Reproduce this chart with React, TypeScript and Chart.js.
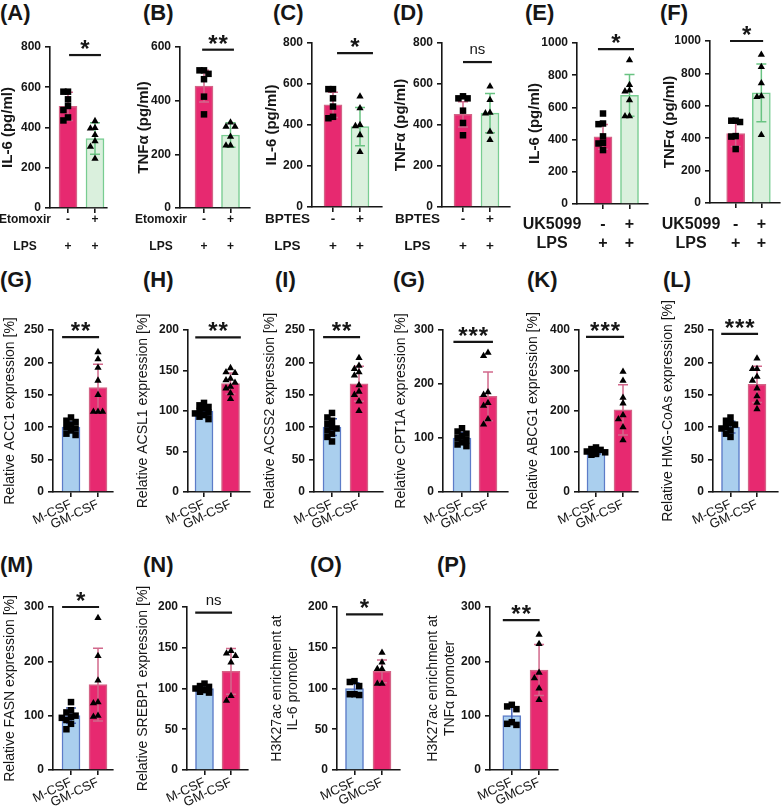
import React, { useEffect, useRef } from "react";
import { Chart, registerables } from "chart.js";
Chart.register(...registerables);

const FONT = 'Arial, "Liberation Sans", Helvetica, sans-serif';

// ---------------- DATA ----------------
// Row 1: LPS-stimulated cytokines, control (-) vs inhibitor (+)
const signLabels = [["-", "+"], ["+", "+"]];

const A_rows = ["Etomoxir", "LPS"];
const A_title = "IL-6 (pg/ml)";
const A_mean = [505, 345];
const A_sd = [70, 78];
const A_ctrl = [578, 578, 540, 507, 487, 450, 435];
const A_trt = [432, 398, 395, 363, 332, 305, 245];
const A_sig = "*";

const B_rows = ["Etomoxir", "LPS"];
const B_title = "TNFα (pg/ml)";
const B_mean = [454, 272];
const B_sd = [59, 46];
const B_ctrl = [513, 513, 500, 480, 415, 349];
const B_trt = [319, 303, 303, 266, 233, 233];
const B_sig = "**";

const C_rows = ["BPTES", "LPS"];
const C_title = "IL-6 (pg/ml)";
const C_mean = [498, 392];
const C_sd = [62, 93];
const C_ctrl = [575, 575, 530, 490, 440, 433];
const C_trt = [539, 482, 400, 395, 351, 269];
const C_sig = "*";

const D_rows = ["BPTES", "LPS"];
const D_title = "TNFα (pg/ml)";
const D_mean = [452, 458];
const D_sd = [62, 96];
const D_ctrl = [530, 540, 530, 470, 410, 350];
const D_trt = [588, 522, 460, 457, 367, 327];
const D_sig = "ns";

const E_rows = ["UK5099", "LPS"];
const E_title = "IL-6 (pg/ml)";
const E_mean = [417, 675];
const E_sd = [77, 130];
const E_ctrl = [562, 496, 500, 420, 376, 380, 335];
const E_trt = [893, 740, 705, 700, 645, 545, 545];
const E_sig = "*";

const F_rows = ["UK5099", "LPS"];
const F_title = "TNFα (pg/ml)";
const F_mean = [428, 680];
const F_sd = [80, 178];
const F_ctrl = [508, 508, 500, 410, 413, 333];
const F_trt = [915, 840, 740, 660, 655, 420];
const F_sig = "*";

// Rows 2-3: M-CSF vs GM-CSF macrophages
const csfLabels = ["M-CSF", "GM-CSF"];
const csfLabelsShort = ["MCSF", "GMCSF"];

const G_title = "Relative ACC1 expression [%]";
const G_mean = [100, 161];
const G_sd = [8, 36];
const G_m = [115, 110, 108, 104, 100, 98, 95, 90, 88];
const G_gm = [216, 205, 192, 172, 150, 124, 124, 124];
const G_sig = "**";

const H_title = "Relative ACSL1 expression [%]";
const H_mean = [100, 134];
const H_sd = [6, 13];
const H_m = [110, 107, 105, 103, 100, 98, 97, 95, 93, 90];
const H_gm = [153, 148, 147, 140, 138, 135, 130, 128, 122, 115];
const H_sig = "**";

const I_title = "Relative ACSS2 expression [%]";
const I_mean = [100, 167];
const I_sd = [13, 27];
const I_m = [122, 115, 110, 105, 100, 98, 95, 90, 85, 78];
const I_gm = [207, 195, 190, 185, 180, 165, 155, 150, 140, 125];
const I_sig = "**";

const J_title = "Relative CPT1A expression [%]";
const J_mean = [100, 177];
const J_sd = [10, 45];
const J_m = [118, 112, 108, 104, 100, 96, 92, 88, 85];
const J_gm = [258, 252, 185, 180, 165, 160, 135, 125];
const J_sig = "***";

const K_title = "Relative ABCG1 expression [%]";
const K_mean = [100, 203];
const K_sd = [6, 62];
const K_m = [110, 106, 104, 100, 98, 96, 94, 92];
const K_gm = [297, 275, 233, 219, 190, 180, 160, 128];
const K_sig = "***";

const L_title = "Relative HMG-CoAs expression [%]";
const L_mean = [100, 166];
const L_sd = [9, 28];
const L_m = [115, 110, 106, 104, 100, 98, 95, 90, 85];
const L_gm = [206, 190, 190, 178, 172, 160, 148, 138, 128];
const L_sig = "***";

const M_title = "Relative FASN expression [%]";
const M_mean = [100, 157];
const M_sd = [14, 67];
const M_m = [125, 110, 106, 100, 98, 96, 92, 85, 75];
const M_gm = [280, 210, 165, 125, 123, 100, 98];
const M_sig = "*";

const N_title = "Relative SREBP1 expression [%]";
const N_mean = [100, 121];
const N_sd = [4, 28];
const N_m = [106, 103, 102, 100, 98, 96, 95];
const N_gm = [146, 143, 140, 132, 91, 85];
const N_sig = "ns";

const O_title = ["H3K27ac enrichment at", "IL-6 promoter"];
const O_mean = [100, 121];
const O_sd = [7, 14];
const O_m = [108, 109, 103, 93, 92, 93];
const O_gm = [144, 132, 124, 124, 106, 106];
const O_sig = "*";

const P_title = ["H3K27ac enrichment at", "TNFα promoter"];
const P_mean = [100, 184];
const P_sd = [16, 47];
const P_m = [120, 117, 112, 88, 85, 83];
const P_gm = [249, 232, 179, 169, 150, 129];
const P_sig = "**";

// ---------------- STYLE ----------------
const RED = { fill: "rgb(231,41,112)", border: "rgb(212,100,135)", err: "rgb(210,105,140)" };
const GREEN = { fill: "rgb(218,240,221)", border: "rgb(120,205,145)", err: "rgb(105,195,130)" };
const BLUE = { fill: "rgb(170,207,238)", border: "rgb(92,124,200)", err: "rgb(70,100,185)" };
const INK = "#161616";

type Spec = {
  label: string; lx: number; ly: number;
  cx: number; cy: number; cw: number; ch: number;
  axisX: number; topY: number; zeroY: number; axisEnd: number; c0: number; c1: number;
  yMax: number; yStep: number;
  title: string | string[]; titleX: number; titleSize: number; titleBold: boolean; titleLH: number;
  xLabels: (string | string[])[]; xSize: number; xLH: number; xPad: number; rot: number; xBold: boolean;
  rows?: string[]; rowOffset?: number;
  mean: number[]; sd: number[]; ctrl: number[]; trt: number[];
  cols: typeof RED[]; sig: string; brY: number; brX: [number, number];
};

const row1 = (o: any): Spec => ({
  cy: 25, ch: 230, titleSize: 15, titleBold: true, titleLH: 18,
  xLabels: signLabels, rot: 0, xBold: true, cols: [RED, GREEN], ly: 13, ...o,
});
const row2 = (o: any): Spec => ({
  cy: 295, ch: 250, topY: 330, zeroY: 492, titleSize: 14, titleBold: false, titleLH: 16,
  xLabels: csfLabels, xSize: 13, xLH: 15, xPad: 0, rot: 25, xBold: false, cols: [BLUE, RED], ly: 280, ...o,
});
const row3 = (o: any): Spec => ({
  cy: 585, ch: 222, topY: 607, zeroY: 770, titleSize: 14, titleBold: false, titleLH: 16,
  xLabels: csfLabels, xSize: 13, xLH: 15, xPad: 0, rot: 25, xBold: false, cols: [BLUE, RED], ly: 565, ...o,
});

const SPECS: Spec[] = [
  row1({ label: "(A)", lx: 0, cx: 0, cw: 128, axisX: 50, topY: 47, zeroY: 208, axisEnd: 107, c0: 68, c1: 95,
    yMax: 800, yStep: 200, title: A_title, titleX: 8, xSize: 12, xLH: 27, xPad: -7, rows: A_rows, rowOffset: 25,
    mean: A_mean, sd: A_sd, ctrl: A_ctrl, trt: A_trt, sig: A_sig, brY: 760, brX: [0.04, 1.22] }),
  row1({ label: "(B)", lx: 143, cx: 130, cw: 135, axisX: 180, topY: 47, zeroY: 208, axisEnd: 250, c0: 204, c1: 230.5,
    yMax: 600, yStep: 200, title: B_title, titleX: 144, xSize: 12, xLH: 27, xPad: -7, rows: B_rows, rowOffset: 19,
    mean: B_mean, sd: B_sd, ctrl: B_ctrl, trt: B_trt, sig: B_sig, brY: 590, brX: [-0.07, 1.13] }),
  row1({ label: "(C)", lx: 273, cx: 265, cw: 125, axisX: 312, topY: 43, zeroY: 207, axisEnd: 382, c0: 333, c1: 360,
    yMax: 800, yStep: 200, title: C_title, titleX: 272, xSize: 13.5, xLH: 27, xPad: -6, rows: C_rows, rowOffset: 24.5,
    mean: C_mean, sd: C_sd, ctrl: C_ctrl, trt: C_trt, sig: C_sig, brY: 751, brX: [0.15, 1.48] }),
  row1({ label: "(D)", lx: 393, cx: 392, cw: 125, axisX: 442, topY: 43, zeroY: 207, axisEnd: 510, c0: 463, c1: 490,
    yMax: 800, yStep: 200, title: D_title, titleX: 401, xSize: 13.5, xLH: 27, xPad: -6, rows: D_rows, rowOffset: 24.5,
    mean: D_mean, sd: D_sd, ctrl: D_ctrl, trt: D_trt, sig: D_sig, brY: 707, brX: [0, 1.07] }),
  row1({ label: "(E)", lx: 525, cx: 520, cw: 135, axisX: 577, topY: 43, zeroY: 204, axisEnd: 648, c0: 603, c1: 629.5,
    yMax: 1000, yStep: 200, title: E_title, titleX: 535, xSize: 16, xLH: 19, xPad: 6.5, rows: E_rows, rowOffset: 25,
    mean: E_mean, sd: E_sd, ctrl: E_ctrl, trt: E_trt, sig: E_sig, brY: 962, brX: [-0.19, 1.17] }),
  row1({ label: "(F)", lx: 660, cx: 655, cw: 129, axisX: 710, topY: 41, zeroY: 203, axisEnd: 783, c0: 737, c1: 764,
    yMax: 1000, yStep: 200, title: F_title, titleX: 670, xSize: 16, xLH: 19, xPad: 7.5, rows: F_rows, rowOffset: 19,
    mean: F_mean, sd: F_sd, ctrl: F_ctrl, trt: F_trt, sig: F_sig, brY: 1000, brX: [-0.22, 1.07] }),

  row2({ label: "(G)", lx: 0, cx: 0, cw: 128, axisX: 53, axisEnd: 113, c0: 71, c1: 98, yMax: 250, yStep: 50,
    title: G_title, titleX: 10, mean: G_mean, sd: G_sd, ctrl: G_m, trt: G_gm, sig: G_sig, brY: 239, brX: [-0.33, 1.04] }),
  row2({ label: "(H)", lx: 143, cx: 128, cw: 134, axisX: 188, axisEnd: 250, c0: 204, c1: 230.5, yMax: 200, yStep: 50,
    title: H_title, titleX: 143, mean: H_mean, sd: H_sd, ctrl: H_m, trt: H_gm, sig: H_sig, brY: 191, brX: [-0.33, 1.39] }),
  row2({ label: "(I)", lx: 275, cx: 262, cw: 130, axisX: 314, axisEnd: 383, c0: 332, c1: 359, yMax: 250, yStep: 50,
    title: I_title, titleX: 270, mean: I_mean, sd: I_sd, ctrl: I_m, trt: I_gm, sig: I_sig, brY: 239, brX: [-0.33, 1.04] }),
  row2({ label: "(G)", lx: 393, cx: 392, cw: 126, axisX: 443, axisEnd: 508, c0: 462, c1: 488, yMax: 300, yStep: 100,
    title: J_title, titleX: 401, mean: J_mean, sd: J_sd, ctrl: J_m, trt: J_gm, sig: J_sig, brY: 278, brX: [-0.33, 1.19] }),
  row2({ label: "(K)", lx: 527, cx: 518, cw: 137, axisX: 579, axisEnd: 638, c0: 596, c1: 623, yMax: 400, yStep: 100,
    title: K_title, titleX: 533, mean: K_mean, sd: K_sd, ctrl: K_m, trt: K_gm, sig: K_sig, brY: 383, brX: [-0.37, 1.04] }),
  row2({ label: "(L)", lx: 663, cx: 655, cw: 129, axisX: 713, axisEnd: 778, c0: 730.5, c1: 757, yMax: 250, yStep: 50,
    title: L_title, titleX: 668, mean: L_mean, sd: L_sd, ctrl: L_m, trt: L_gm, sig: L_sig, brY: 244, brX: [-0.35, 1.04] }),

  row3({ label: "(M)", lx: 0, cx: 0, cw: 128, axisX: 53, axisEnd: 113, c0: 71, c1: 98, yMax: 300, yStep: 100,
    title: M_title, titleX: 10, mean: M_mean, sd: M_sd, ctrl: M_m, trt: M_gm, sig: M_sig, brY: 300, brX: [-0.33, 1.04] }),
  row3({ label: "(N)", lx: 143, cx: 128, cw: 134, axisX: 187, axisEnd: 248, c0: 204.5, c1: 231, yMax: 200, yStep: 50,
    title: N_title, titleX: 143, mean: N_mean, sd: N_sd, ctrl: N_m, trt: N_gm, sig: N_sig, brY: 193, brX: [-0.35, 1.04] }),
  row3({ label: "(O)", lx: 310, cx: 262, cw: 150, axisX: 337, axisEnd: 400, c0: 354.5, c1: 382, yMax: 200, yStep: 50,
    title: O_title, titleX: 277, titleLH: 16, xLabels: csfLabelsShort,
    mean: O_mean, sd: O_sd, ctrl: O_m, trt: O_gm, sig: O_sig, brY: 191, brX: [-0.31, 1.04] }),
  row3({ label: "(P)", lx: 437, cx: 412, cw: 150, axisX: 490, axisEnd: 558, c0: 512, c1: 539.5, yMax: 300, yStep: 100,
    title: P_title, titleX: 433, titleLH: 17, xLabels: csfLabelsShort,
    mean: P_mean, sd: P_sd, ctrl: P_m, trt: P_gm, sig: P_sig, brY: 276, brX: [-0.33, 1.02] }),
];

// compact beeswarm: nudge points sideways (within the bar) when they would overlap
function swarm(vals: number[], valPerPx: number): number[] {
  const step = 0.17;
  const thresh = 5.5 * valPerPx;
  const order = vals.map((_, i) => i).sort((a, b) => vals[b] - vals[a]);
  const placed: { x: number; y: number }[] = [];
  const out = new Array(vals.length).fill(0);
  const cands = [0, -1, 1, -2, 2];
  for (const i of order) {
    let best = 0, bestHits = Infinity;
    for (const c of cands) {
      const dx = c * step;
      const hits = placed.filter((p) => Math.abs(p.x - dx) < step * 0.9 && Math.abs(p.y - vals[i]) < thresh).length;
      if (hits < bestHits) { bestHits = hits; best = dx; }
      if (hits === 0) break;
    }
    out[i] = best;
    placed.push({ x: best, y: vals[i] });
  }
  return out;
}

function Panel({ s }: { s: Spec }) {
  const ref = useRef<HTMLCanvasElement>(null);
  useEffect(() => {
    const unit = s.c1 - s.c0;
    const xMin = -(s.c0 - s.axisX) / unit;
    const xMax = 1 + (s.axisEnd - s.c1) / unit;
    const valPerPx = s.yMax / (s.zeroY - s.topY);
    const offC = swarm(s.ctrl, valPerPx);
    const offT = swarm(s.trt, valPerPx);
    const titleLines = Array.isArray(s.title) ? s.title : [s.title];
    const xFontWeight = s.xBold ? "bold" : "normal";
    const tickLen = 5;

    const overlay = {
      id: "overlay" + s.label,
      afterDatasetDraw(chart: any, args: any) {
        if (args.meta.type !== "bar") return;
        const { ctx } = chart;
        const xs = chart.scales.x, ys = chart.scales.y;
        s.mean.forEach((m, i) => {
          const x = xs.getPixelForValue(i);
          const y1 = ys.getPixelForValue(m + s.sd[i]);
          const y2 = ys.getPixelForValue(Math.max(0, m - s.sd[i]));
          const cap = 5;
          ctx.save();
          ctx.strokeStyle = s.cols[i].err;
          ctx.lineWidth = 1.5;
          ctx.beginPath();
          ctx.moveTo(x, y1); ctx.lineTo(x, y2);
          ctx.moveTo(x - cap, y1); ctx.lineTo(x + cap, y1);
          ctx.moveTo(x - cap, y2); ctx.lineTo(x + cap, y2);
          ctx.stroke();
          ctx.restore();
        });
      },
      afterDraw(chart: any) {
        const { ctx } = chart;
        const xs = chart.scales.x, ys = chart.scales.y;
        const by = ys.getPixelForValue(s.brY);
        const bx0 = xs.getPixelForValue(s.brX[0]);
        const bx1 = xs.getPixelForValue(s.brX[1]);
        ctx.save();
        ctx.strokeStyle = INK;
        ctx.lineWidth = 2.2;
        ctx.beginPath();
        ctx.moveTo(bx0, by); ctx.lineTo(bx1, by);
        ctx.stroke();
        ctx.fillStyle = INK;
        ctx.textAlign = "center";
        ctx.textBaseline = "alphabetic";
        const mid = (bx0 + bx1) / 2;
        if (s.sig === "ns") {
          ctx.font = `15px ${FONT}`;
          ctx.fillText("ns", mid, by - 8);
        } else {
          ctx.font = `bold 24px ${FONT}`;
          (ctx as any).letterSpacing = "1px";
          ctx.fillText(s.sig, mid + 0.5, by + 2);
        }
        if (s.rows) {
          ctx.font = `bold ${s.xSize}px ${FONT}`;
          ctx.textBaseline = "middle";
          (ctx as any).letterSpacing = "0px";
          const yFirst = xs.top + tickLen + s.xPad + s.xLH / 2;
          s.rows.forEach((r, k) => {
            ctx.fillText(r, xs.left - (s.rowOffset || 25), yFirst + k * s.xLH);
          });
        }
        ctx.restore();
      },
    };

    const axisLine = { display: true, color: INK, width: 1.6 };
    const tickGrid = { display: true, drawOnChartArea: false, drawTicks: true, tickLength: tickLen, color: INK, lineWidth: 1.6 };

    const chart = new Chart(ref.current!, {
      type: "bar",
      data: {
        datasets: [
          {
            type: "scatter",
            data: s.ctrl.map((v, i) => ({ x: offC[i], y: v })),
            pointStyle: "rect",
            pointRadius: 4.6,
            backgroundColor: "#000",
            borderWidth: 0,
            order: 0,
            clip: false,
          } as any,
          {
            type: "scatter",
            data: s.trt.map((v, i) => ({ x: 1 + offT[i], y: v })),
            pointStyle: "triangle",
            pointRadius: 4.2,
            backgroundColor: "#000",
            borderWidth: 0,
            order: 0,
            clip: false,
          } as any,
          {
            type: "bar",
            data: s.mean.map((m, i) => ({ x: i, y: m })),
            backgroundColor: s.cols.map((c) => c.fill),
            borderColor: s.cols.map((c) => c.border),
            borderWidth: 1.5,
            barThickness: 18,
            order: 5,
          } as any,
        ],
      },
      options: {
        responsive: false,
        animation: false,
        devicePixelRatio: 1,
        events: [],
        layout: {
          padding: { left: 0, top: s.topY - s.cy, right: s.cx + s.cw - s.axisEnd, bottom: 0 },
        },
        plugins: { legend: { display: false }, tooltip: { enabled: false }, title: { display: false } },
        scales: {
          x: {
            type: "linear",
            offset: false,
            min: xMin,
            max: xMax,
            grid: { ...tickGrid, offset: false } as any,
            border: axisLine as any,
            afterBuildTicks: (axis: any) => { axis.ticks = [{ value: 0 }, { value: 1 }]; },
            afterFit: (axis: any) => { axis.height = s.cy + s.ch - s.zeroY; },
            ticks: {
              autoSkip: false,
              minRotation: s.rot,
              maxRotation: s.rot,
              padding: s.xPad,
              color: INK,
              font: { family: FONT, size: s.xSize, weight: xFontWeight as any, lineHeight: s.xLH / s.xSize },
              callback: (v: any) => {
                const k = Math.round(Number(v));
                return k === 0 || k === 1 ? (s.xLabels[k] as any) : "";
              },
            },
          },
          y: {
            type: "linear",
            min: 0,
            max: s.yMax,
            grid: tickGrid as any,
            border: axisLine as any,
            afterFit: (axis: any) => { axis.width = s.axisX - s.cx; },
            ticks: {
              stepSize: s.yStep,
              padding: 4,
              color: INK,
              font: { family: FONT, size: 12, weight: "bold" as any },
              callback: (v: any) => String(v),
            },
            title: {
              display: true,
              text: titleLines.length > 1 ? titleLines : titleLines[0],
              color: INK,
              font: { family: FONT, size: s.titleSize, weight: (s.titleBold ? "bold" : "normal") as any, lineHeight: s.titleLH / s.titleSize },
              padding: { top: s.titleX - s.cx - s.titleLH / 2, bottom: 0 },
            },
          },
        },
      } as any,
      plugins: [overlay as any],
    });
    return () => chart.destroy();
  }, [s]);

  return (
    <canvas
      ref={ref}
      width={s.cw}
      height={s.ch}
      style={{ position: "absolute", left: s.cx, top: s.cy, width: s.cw, height: s.ch }}
    />
  );
}

export default function App() {
  return (
    <div style={{ position: "absolute", left: 0, top: 0, width: 784, height: 807, background: "#fff", overflow: "hidden" }}>
      {SPECS.map((s, i) => (
        <React.Fragment key={i}>
          <div
            style={{
              position: "absolute",
              left: s.lx,
              top: s.ly - 13,
              font: `bold 22px ${FONT}`,
              lineHeight: "26px",
              color: INK,
              whiteSpace: "nowrap",
            }}
          >
            {s.label}
          </div>
          <Panel s={s} />
        </React.Fragment>
      ))}
    </div>
  );
}
